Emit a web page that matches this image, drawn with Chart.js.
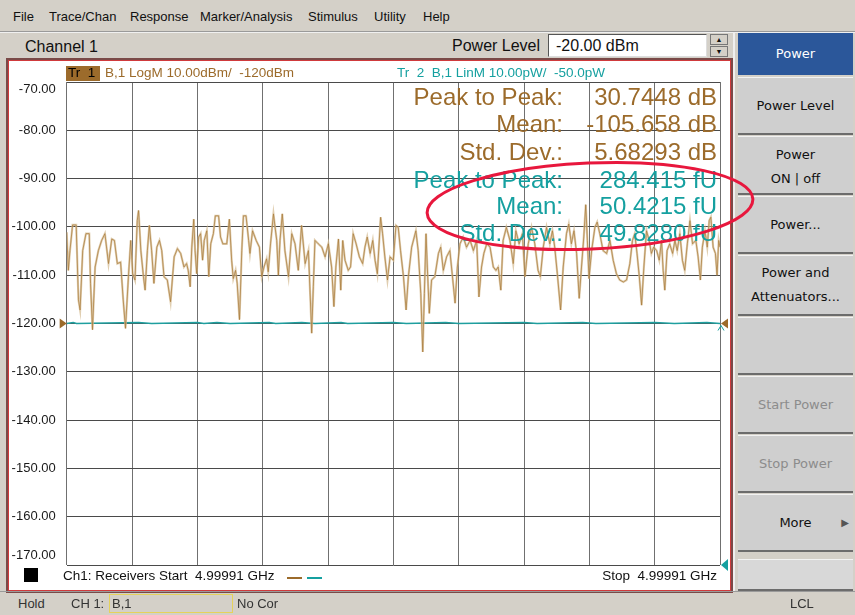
<!DOCTYPE html>
<html>
<head>
<meta charset="utf-8">
<script src="https://cdn.jsdelivr.net/npm/chart.js@4.4.1/dist/chart.umd.min.js"></script>
<style>
  body { margin: 0; width: 855px; height: 615px; background: #d4d0c8; position: relative; overflow: hidden;
         font-family: "Liberation Sans", Arial, sans-serif; color: #111; }
  .abs { position: absolute; white-space: pre; }
  .menu { top: 9px; font-size: 13px; }
  .stat { font-size: 24px; line-height: 26px; text-align: right; }
  .brown { color: #9c6b2b; }
  .teal { color: #15a0a0; }
  .btn { position: absolute; left: 738px; width: 115px; background: #cfcfcf; border-top: 1px solid #f2f2f2;
         border-bottom: 2px solid #6c6c6c; box-sizing: border-box; font-family: "DejaVu Sans", sans-serif;
         font-size: 13px; text-align: center; display: flex; align-items: center; justify-content: center; line-height: 24px; }
  .off { color: #8c8c8c; }
  .status { top: 596px; font-size: 13px; color: #333; }
</style>
</head>
<body>
<!-- menu bar -->
<div class="abs menu" style="left:13px">File</div>
<div class="abs menu" style="left:49px">Trace/Chan</div>
<div class="abs menu" style="left:130px">Response</div>
<div class="abs menu" style="left:200px">Marker/Analysis</div>
<div class="abs menu" style="left:308px">Stimulus</div>
<div class="abs menu" style="left:374px">Utility</div>
<div class="abs menu" style="left:423px">Help</div>
<div class="abs" style="left:0;top:31px;width:855px;height:1px;background:#9a9a9a"></div>
<div class="abs" style="left:0;top:32px;width:855px;height:1px;background:#f0f0f0"></div>

<!-- toolbar -->
<div class="abs" style="left:25px;top:38px;font-size:16px">Channel 1</div>
<div class="abs" style="left:452px;top:37px;font-size:16px">Power Level</div>
<div class="abs" style="left:548px;top:34px;width:159px;height:23px;background:#fff;border:1px solid #555;border-right-color:#ddd;border-bottom-color:#ddd;box-sizing:border-box"></div>
<div class="abs" style="left:556px;top:37px;font-size:16px">-20.00 dBm</div>
<div class="abs" style="left:710px;top:34px;width:18px;height:11px;background:#d4d0c8;border:1px solid #777;box-sizing:border-box;font-size:7px;text-align:center;line-height:9px">▲</div>
<div class="abs" style="left:710px;top:46px;width:18px;height:11px;background:#d4d0c8;border:1px solid #777;box-sizing:border-box;font-size:7px;text-align:center;line-height:9px">▼</div>

<!-- chart window -->
<div class="abs" style="left:8px;top:60px;width:723px;height:531px;background:#fff;border:1px solid #d03a3c;outline:2px solid #7a4a48;box-sizing:border-box"></div>
<canvas id="trace" width="716" height="524" style="position:absolute;left:12px;top:64px"></canvas>

<div class="abs" style="left:66px;top:66px;width:34px;height:15px;background:#9c6b2b"></div>
<div class="abs" style="left:68px;top:65px;font-size:13.5px;color:#000">Tr  1</div>
<div class="abs brown" style="left:105px;top:65px;font-size:13.5px">B,1 LogM 10.00dBm/  -120dBm</div>
<div class="abs teal" style="left:397px;top:65px;font-size:13.5px">Tr  2  B,1 LinM 10.00pW/  -50.0pW</div>

<div class="abs stat brown" style="right:292px;top:84px">Peak to Peak:</div>
<div class="abs stat brown" style="right:138px;top:84px">30.7448 dB</div>
<div class="abs stat brown" style="right:292px;top:111px">Mean:</div>
<div class="abs stat brown" style="right:138px;top:111px">-105.658 dB</div>
<div class="abs stat brown" style="right:292px;top:139px">Std. Dev.:</div>
<div class="abs stat brown" style="right:138px;top:139px">5.68293 dB</div>
<div class="abs stat teal" style="right:292px;top:167px">Peak to Peak:</div>
<div class="abs stat teal" style="right:138px;top:167px">284.415 fU</div>
<div class="abs stat teal" style="right:292px;top:193px">Mean:</div>
<div class="abs stat teal" style="right:138px;top:193px">50.4215 fU</div>
<div class="abs stat teal" style="right:292px;top:220px">Std. Dev.:</div>
<div class="abs stat teal" style="right:138px;top:220px">49.8280 fU</div>

<div class="abs" style="left:24px;top:568px;width:14px;height:14px;background:#000"></div>
<div class="abs" style="left:63px;top:568px;font-size:13.5px">Ch1: Receivers Start  4.99991 GHz</div>
<div class="abs" style="left:287px;top:577px;width:15px;height:2px;background:#9c6b2b"></div>
<div class="abs" style="left:307px;top:577px;width:15px;height:2px;background:#15a0a0"></div>
<div class="abs" style="right:138px;top:568px;font-size:13.5px">Stop  4.99991 GHz</div>

<!-- softkey panel -->
<div class="abs" style="left:733px;top:33px;width:2px;height:558px;background:#efefef"></div>
<div class="btn" style="top:33px;height:42px;background:#2b579a;color:#fff;border:none">Power</div>
<div class="btn" style="top:77px;height:58px">Power Level</div>
<div class="btn" style="top:136px;height:59px;padding-top:3px">Power<br>ON | off</div>
<div class="btn" style="top:196px;height:58px">Power...</div>
<div class="btn" style="top:255px;height:61px">Power and<br>Attenuators...</div>
<div class="btn" style="top:317px;height:58px"></div>
<div class="btn off" style="top:376px;height:58px">Start Power</div>
<div class="btn off" style="top:435px;height:58px">Stop Power</div>
<div class="btn" style="top:494px;height:58px">More<span style="position:absolute;right:4px;font-size:10px;color:#555">▶</span></div>
<div class="btn" style="top:559px;height:32px;background:#d8d8d8"></div>

<!-- status bar -->
<div class="abs" style="left:0;top:591px;width:855px;height:1px;background:#9a9a9a"></div>
<div class="abs status" style="left:18px">Hold</div>
<div class="abs status" style="left:71px">CH 1:</div>
<div class="abs" style="left:109px;top:594px;width:124px;height:19px;border:1px solid #e6d25a;box-sizing:border-box"></div>
<div class="abs status" style="left:112px">B,1</div>
<div class="abs status" style="left:237px">No Cor</div>
<div class="abs status" style="left:790px">LCL</div>

<svg class="abs" width="855" height="615" style="left:0;top:0;pointer-events:none">
  <ellipse cx="590" cy="206" rx="163" ry="43" transform="rotate(-2.5 590 206)" fill="none" stroke="#e8173d" stroke-width="3"/>
</svg>

<script>
const tr1Points = [0, 0.5, 1.0, 1.8, 2.9, 3.6, 4.1, 4.9, 5.9, 6.9, 7.3, 7.9, 8.7, 9.7, 10.7, 11.7, 12.8, 13.8, 14.6, 15.5,
  16.5, 17.3, 18.0, 18.9, 19.6, 20.2, 20.9, 21.6, 22.0, 22.7, 23.5, 24.0, 24.7, 25.3, 26.0, 26.7, 27.6, 28.4, 29.1, 29.8,
  30.8, 31.8, 32.9, 33.9, 34.9, 35.9, 36.7, 37.2, 37.8, 38.3, 38.9, 39.3, 39.8, 40.4, 41.0, 41.6, 42.1, 42.9, 43.5, 44.1,
  44.9, 45.5, 46.5, 47.1, 47.8, 49.0, 49.8, 50.5, 51.0, 51.7, 52.2, 52.9, 53.6, 54.1, 54.9, 55.7, 56.1, 56.9, 58.0, 59.0,
  59.7, 60.4, 61.2, 61.7, 62.4, 63.3, 63.8, 64.3, 64.8, 65.3, 66.0, 66.8, 67.9, 68.9, 69.9, 70.9, 71.9, 73.0, 74.0, 75.0,
  75.5, 76.0, 77.0, 78.1, 79.1, 80.1, 81.1, 81.8, 82.4, 83.2, 83.9, 84.5, 85.2, 86.2, 86.9, 87.7, 88.6, 89.6, 90.6, 91.3,
  92.0, 92.9, 93.7, 94.4, 95.1, 96.1, 96.7, 97.4, 98.2, 99.0, 100.0, 100.8, 101.5, 102.2, 103.1, 103.9, 104.6, 105.6, 106.9, 107.6,
  108.4, 109.0, 109.5, 110.0, 110.4, 111.0, 111.7, 112.7, 113.8, 114.5, 115.3, 116.3, 117.3, 118.2, 118.9, 119.6, 120.4, 121.4, 122.4, 123.5,
  124.5, 125.5, 126.2, 127.0, 127.7, 128.6, 129.6, 130.6, 131.4, 132.1, 132.9, 133.6, 134.6, 135.7, 136.7, 137.5, 138.5, 139.5, 140.3, 141.3,
  142.3, 143.3, 144.3, 145.0, 145.9, 146.9, 147.9, 148.7, 149.4, 150.2, 151.2, 152.0, 153.0, 153.7, 154.5, 155.3, 156.1, 156.9, 157.6, 158.3,
  158.9, 159.4, 159.9, 160.7, 161.7, 162.4, 163.2, 164.2, 165.3, 166.3, 167.3, 168.3, 169.3, 170.4, 171.4, 172.4, 173.2, 173.9, 174.6, 175.3,
  176.0, 176.7, 177.5, 178.3, 179.0, 179.7, 180.6, 181.4, 182.1, 182.6, 183.1, 183.8, 184.6, 185.5, 186.2, 186.9, 187.7, 188.5, 189.2, 190.0,
  190.8, 191.6, 192.6, 193.3, 194.0, 194.6, 195.4, 196.1, 196.7, 197.2, 197.9, 198.6, 199.1, 199.6, 200.0];
const tr1Values = [-101.1, -109.0, -104.9, -99.6, -99.6, -115.1, -117.2, -104.9, -101.4, -101.4, -111.7, -121.3, -108.3, -104.9, -102.8, -101.4, -107.6, -102.5, -102.8, -107.6,
  -107.3, -115.1, -121.0, -110.3, -102.8, -109.7, -111.0, -98.7, -96.6, -104.9, -110.3, -113.1, -104.9, -99.7, -104.9, -111.7, -104.2, -102.8, -104.9, -110.3,
  -111.0, -115.5, -106.2, -104.5, -105.5, -108.3, -107.6, -109.0, -112.4, -104.2, -98.4, -104.9, -109.7, -102.1, -101.4, -106.9, -102.8, -100.8, -110.3, -103.5,
  -101.4, -97.7, -97.7, -102.1, -103.5, -103.5, -98.4, -106.9, -110.7, -109.0, -111.7, -119.2, -104.9, -97.7, -97.7, -102.8, -105.5, -100.8, -102.8, -104.2,
  -110.3, -108.3, -106.6, -109.3, -103.5, -97.3, -100.1, -102.8, -110.0, -102.8, -97.3, -104.9, -110.3, -101.4, -103.5, -109.0, -99.7, -107.6, -104.9, -122.0,
  -112.4, -102.8, -103.5, -104.2, -106.2, -103.5, -108.3, -116.5, -108.3, -102.5, -113.1, -102.8, -106.9, -109.0, -108.3, -101.4, -103.5, -106.2, -107.6, -104.2,
  -102.1, -105.5, -102.8, -106.9, -109.7, -98.0, -101.4, -106.2, -111.0, -106.2, -106.9, -99.7, -100.1, -104.9, -110.3, -117.2, -110.3, -104.2, -100.8, -104.9,
  -113.8, -125.9, -113.8, -101.4, -108.3, -117.9, -111.0, -110.3, -105.5, -104.2, -109.0, -106.2, -104.9, -111.0, -115.8, -108.3, -103.5, -102.1, -104.2, -102.8,
  -104.9, -102.8, -114.5, -108.3, -105.5, -103.5, -104.2, -108.3, -109.0, -108.3, -113.1, -102.8, -100.1, -102.8, -107.6, -100.8, -103.5, -101.4, -110.3, -103.5,
  -100.1, -103.5, -109.0, -110.3, -104.2, -100.1, -103.5, -100.8, -104.2, -109.7, -117.2, -108.3, -101.4, -99.4, -103.5, -100.8, -105.5, -114.8, -108.3, -102.1,
  -95.4, -102.8, -110.7, -104.9, -100.1, -99.0, -101.4, -104.9, -105.5, -102.8, -106.9, -109.7, -111.0, -111.4, -111.0, -107.6, -102.8, -101.4, -105.5, -110.3,
  -116.2, -108.3, -100.8, -102.8, -105.5, -104.2, -104.9, -106.9, -102.8, -109.0, -113.1, -104.9, -103.5, -105.5, -102.8, -104.9, -101.4, -106.9, -109.0, -103.5,
  -98.7, -103.5, -102.8, -106.2, -111.0, -104.2, -100.8, -104.2, -98.7, -98.0, -104.2, -105.5, -110.0, -102.8, -104.2];

// Tr 2 (B,1 LinM) sits on the reference line
const tr2Points = [0, 2, 3, 22, 26, 40, 42, 46, 50, 62, 64, 72, 76, 84, 86, 100, 104, 116, 120, 140, 144, 158, 162, 180, 186, 196, 200];
const tr2Values = [-120, -119.8, -120, -119.8, -120, -119.8, -120, -119.8, -120, -119.8, -120, -119.8, -120, -119.8, -120, -119.8, -120, -119.8, -120, -119.8, -120, -119.8, -120, -119.8, -120, -119.8, -120];

const refLevel = -120;
const yMin = -170, yMax = -70, yStep = 10;

const toXY = (xs, ys) => xs.map((p, i) => ({ x: p, y: ys[i] }));

const screenDecor = {
  id: 'screenDecor',
  afterDraw(chart) {
    const { ctx, chartArea, scales: { x, y } } = chart;
    ctx.save();
    // y tick labels, the end ones tucked inside the grid like the analyzer does
    ctx.font = '13px "Liberation Sans", Arial';
    ctx.fillStyle = '#1a1a1a';
    ctx.textAlign = 'right';
    ctx.textBaseline = 'middle';
    y.ticks.forEach(t => {
      let py = y.getPixelForValue(t.value);
      if (t.value === yMax) py += 7;
      if (t.value === yMin) py -= 10;
      ctx.fillText(t.value.toFixed(2), chartArea.left - 11, py);
    });
    // reference position markers
    const ry = y.getPixelForValue(refLevel);
    const l = x.getPixelForValue(0), r = x.getPixelForValue(200);
    ctx.fillStyle = '#9c6b2b';
    ctx.beginPath();
    ctx.moveTo(l, ry); ctx.lineTo(l - 7, ry - 5); ctx.lineTo(l - 7, ry + 5); ctx.closePath(); ctx.fill();
    ctx.beginPath();
    ctx.moveTo(r + 1, ry); ctx.lineTo(r + 8, ry - 5); ctx.lineTo(r + 8, ry + 5); ctx.closePath(); ctx.fill();
    ctx.fillStyle = '#15a0a0';
    const by = y.getPixelForValue(yMin);
    ctx.beginPath();
    ctx.moveTo(r + 1, by); ctx.lineTo(r + 8, by - 6); ctx.lineTo(r + 8, by + 6); ctx.closePath(); ctx.fill();
    ctx.strokeStyle = '#15a0a0';
    ctx.lineWidth = 1;
    ctx.beginPath();
    ctx.moveTo(r - 2, ry + 7); ctx.lineTo(r + 1, ry + 2); ctx.lineTo(r + 4, ry + 7); ctx.stroke();
    ctx.restore();
  }
};

new Chart(document.getElementById('trace').getContext('2d'), {
  type: 'line',
  data: {
    datasets: [
      { label: 'Tr 1', data: toXY(tr1Points, tr1Values), borderColor: '#a77836', borderWidth: 0.7, pointRadius: 0, tension: 0 },
      { label: 'Tr 1 glow', data: toXY(tr1Points, tr1Values), borderColor: 'rgba(214,190,150,0.75)', borderWidth: 2.2, pointRadius: 0, tension: 0 },
      { label: 'Tr 2', data: toXY(tr2Points, tr2Values), borderColor: '#1f9f9f', borderWidth: 1.4, pointRadius: 0, tension: 0 }
    ]
  },
  options: {
    responsive: false,
    animation: false,
    layout: { padding: { top: 18, right: 8, bottom: 23, left: 0 } },
    plugins: { legend: { display: false }, tooltip: { enabled: false } },
    scales: {
      x: {
        type: 'linear', min: 0, max: 200,
        ticks: { display: false, stepSize: 20 },
        grid: { color: '#707070', drawTicks: false },
        border: { display: false },
        afterFit(s) { s.height = 0; }
      },
      y: {
        min: yMin, max: yMax,
        ticks: { display: false, stepSize: yStep },
        grid: { color: '#4a4a4a', drawTicks: false },
        border: { display: false },
        afterFit(s) { s.width = 54.7; }
      }
    }
  },
  plugins: [screenDecor]
});
</script>
</body>
</html>
